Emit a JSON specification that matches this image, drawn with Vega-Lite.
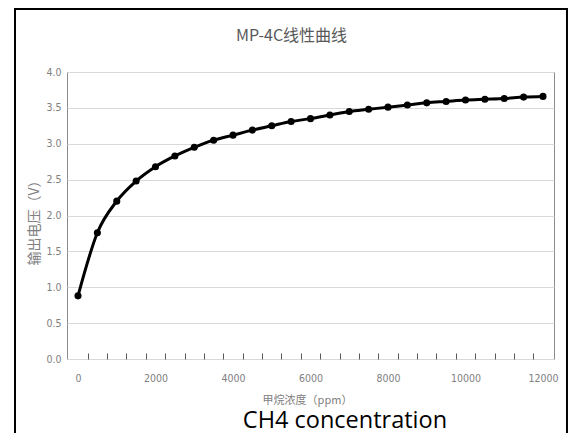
{
  "$schema": "https://vega.github.io/schema/vega-lite/v6.json",
  "width": 487,
  "height": 287,
  "autosize": {"type": "none"},
  "padding": {"left": 67, "top": 72, "right": 19, "bottom": 74},
  "background": "white",
  "title": {
    "text": "MP-4C线性曲线",
    "font": "Noto Sans CJK SC",
    "fontSize": 16,
    "fontWeight": "normal",
    "color": "#595959",
    "anchor": "middle",
    "dx": -19,
    "offset": -36
  },
  "config": {
    "view": {"stroke": "#8c8c8c", "strokeWidth": 1},
    "font": "Noto Sans CJK SC"
  },
  "layer": [
    {
      "data": {
        "values": [
          {"ppm": 0, "v": 0.88},
          {"ppm": 500, "v": 1.76},
          {"ppm": 1000, "v": 2.2},
          {"ppm": 1500, "v": 2.48},
          {"ppm": 2000, "v": 2.68},
          {"ppm": 2500, "v": 2.83},
          {"ppm": 3000, "v": 2.95},
          {"ppm": 3500, "v": 3.05},
          {"ppm": 4000, "v": 3.12},
          {"ppm": 4500, "v": 3.19},
          {"ppm": 5000, "v": 3.25},
          {"ppm": 5500, "v": 3.31},
          {"ppm": 6000, "v": 3.35},
          {"ppm": 6500, "v": 3.4},
          {"ppm": 7000, "v": 3.45},
          {"ppm": 7500, "v": 3.48},
          {"ppm": 8000, "v": 3.51},
          {"ppm": 8500, "v": 3.54},
          {"ppm": 9000, "v": 3.57},
          {"ppm": 9500, "v": 3.59},
          {"ppm": 10000, "v": 3.61},
          {"ppm": 10500, "v": 3.62},
          {"ppm": 11000, "v": 3.63},
          {"ppm": 11500, "v": 3.65},
          {"ppm": 12000, "v": 3.66}
        ]
      },
      "mark": {
        "type": "line",
        "color": "black",
        "strokeWidth": 3,
        "interpolate": "monotone",
        "point": {"filled": true, "size": 50, "color": "black"}
      },
      "encoding": {
        "x": {
          "field": "ppm",
          "type": "quantitative",
          "scale": {"domain": [-284, 12284], "nice": false, "zero": false},
          "axis": {
            "values": [0, 250, 750, 1250, 1750, 2000, 2250, 2750, 3250, 3750, 4000, 4250, 4750, 5250, 5750, 6000, 6250, 6750, 7250, 7750, 8000, 8250, 8750, 9250, 9750, 10000, 10250, 10750, 11250, 11750, 12000],
            "tickCount": 200,
            "labelExpr": "datum.value % 2000 === 0 ? datum.label : ''",
            "grid": false,
            "domain": false,
            "ticks": true,
            "tickSize": -6,
            "tickColor": "#595959",
            "tickWidth": 1,
            "tickOpacity": {"condition": {"test": "datum.value % 2000 === 0", "value": 0}, "value": 1},
            "labelPadding": 20,
            "labelFont": "DejaVu Sans Condensed",
            "labelFontSize": 10.5,
            "labelColor": "#808080",
            "labelOverlap": false,
            "labelFlush": false,
            "format": "d",
            "title": "甲烷浓度（ppm）",
            "titleFont": "Noto Sans CJK SC",
            "titleFontSize": 11,
            "titleFontWeight": "normal",
            "titleColor": "#808080",
            "titleX": 240,
            "titleY": 41,
            "titleBaseline": "middle",
            "titleAlign": "center"
          }
        },
        "y": {
          "field": "v",
          "type": "quantitative",
          "scale": {"domain": [0, 4], "nice": false},
          "axis": {
            "values": [0, 0.5, 1, 1.5, 2, 2.5, 3, 3.5, 4],
            "tickCount": 20,
            "format": ".1f",
            "grid": true,
            "gridColor": "#d9d9d9",
            "gridWidth": 1,
            "ticks": false,
            "domain": false,
            "labelPadding": 6,
            "labelFont": "DejaVu Sans Condensed",
            "labelFontSize": 10.5,
            "labelColor": "#808080",
            "title": "输出电压（V）",
            "titleFont": "Noto Sans CJK SC",
            "titleFontSize": 14,
            "titleFontWeight": "normal",
            "titleColor": "#808080",
            "titleAngle": -90,
            "titleX": -33,
            "titleY": 147,
            "titleBaseline": "middle",
            "titleAlign": "center"
          }
        }
      }
    },
    {
      "data": {"values": [{"note": "CH4 concentration"}]},
      "mark": {"type": "text", "font": "Open Sans", "fontSize": 23.5, "fontWeight": "normal", "color": "black", "align": "center", "baseline": "alphabetic"},
      "encoding": {
        "text": {"field": "note"},
        "x": {"datum": 6890},
        "y": {"datum": -0.955}
      }
    },
    {
      "data": {"values": [{"frame": "outer"}]},
      "mark": {"type": "rect", "fill": "transparent", "stroke": "black", "strokeWidth": 2},
      "encoding": {
        "x": {"datum": -1626},
        "x2": {"datum": 12619},
        "y": {"datum": 4.878},
        "y2": {"datum": -1.5}
      }
    }
  ]
}
